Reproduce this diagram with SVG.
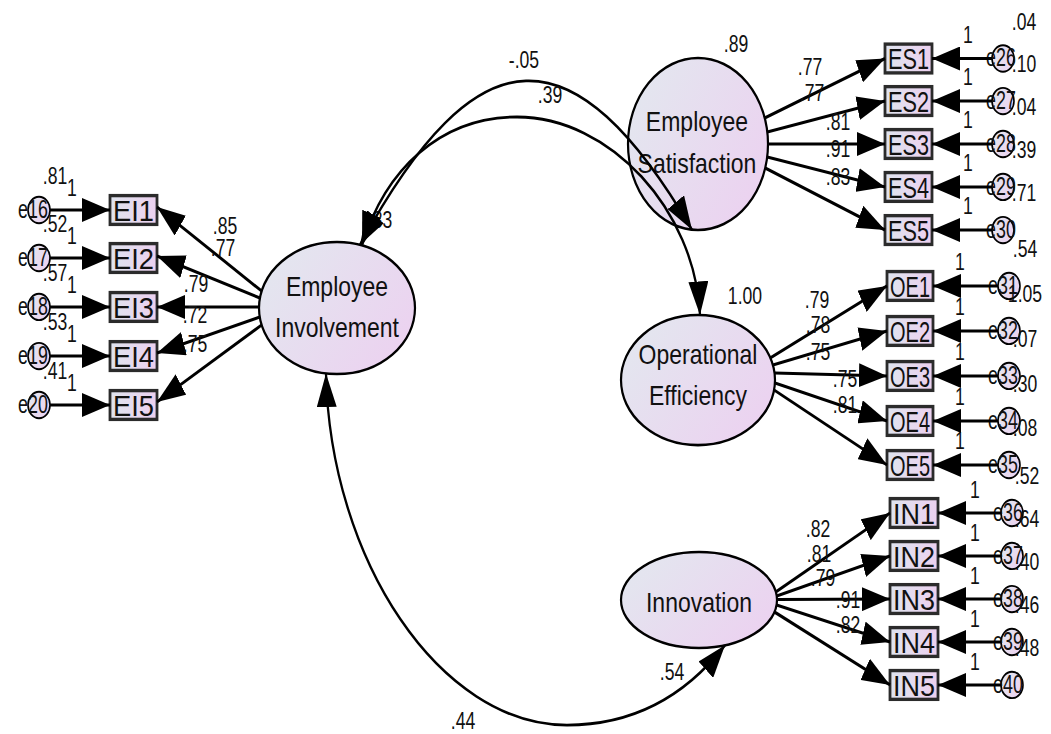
<svg xmlns="http://www.w3.org/2000/svg" width="1051" height="734" viewBox="0 0 1051 734">
<defs>
<linearGradient id="gl" x1="0" y1="0.2" x2="1" y2="0.8"><stop offset="0" stop-color="#e3e7ef"/><stop offset="1" stop-color="#ecd1f0"/></linearGradient>
<linearGradient id="gb" x1="0" y1="0" x2="1" y2="0"><stop offset="0" stop-color="#dfe4ee"/><stop offset="1" stop-color="#ecd0ef"/></linearGradient>
<marker id="ah" viewBox="0 0 28 20" refX="28" refY="10" markerWidth="28" markerHeight="20" markerUnits="userSpaceOnUse" orient="auto-start-reverse"><path d="M0,0 L28,10 L0,20 z" fill="#000"/></marker>
<style>
.lat{fill:url(#gl);stroke:#000;stroke-width:2.2}
.box{fill:url(#gb);stroke:#2b2b2b;stroke-width:2.8}
.err{fill:url(#gl);stroke:#000;stroke-width:1.6}
text{font-family:"Liberation Sans",Arial,sans-serif;fill:#111}
.lt{font-size:23px;text-anchor:middle}
.bt{font-size:25px;text-anchor:middle}
.et{font-size:21px;text-anchor:middle;transform:scaleX(0.85);transform-box:fill-box;transform-origin:center}
.nt{font-size:20px;text-anchor:middle;transform:scaleX(0.88);transform-box:fill-box;transform-origin:center}
.c{fill:none;stroke:#000;stroke-width:2.6;marker-end:url(#ah)}
.cc{fill:none;stroke:#000;stroke-width:2.3;marker-start:url(#ah);marker-end:url(#ah)}
</style>
</defs>
<rect width="1051" height="734" fill="#fff"/>
<g transform="scale(1,1.2)">
<!-- latent nodes -->
<g id="n-EI"><ellipse class="lat" cx="337" cy="256.7" rx="78" ry="55"/><text class="lt" x="337" y="246.7">Employee</text><text class="lt" x="337" y="280.8">Involvement</text><text class="nt" x="380" y="190">.83</text></g>
<g id="n-ES"><ellipse class="lat" cx="698" cy="120" rx="70" ry="71.7"/><text class="lt" x="697" y="109.2">Employee</text><text class="lt" x="697" y="144.2">Satisfaction</text><text class="nt" x="736" y="43.3">.89</text></g>
<g id="n-OE"><ellipse class="lat" cx="698" cy="316.7" rx="77" ry="54.2"/><text class="lt" x="698" y="303">Operational</text><text class="lt" x="698" y="337.5">Efficiency</text><text class="nt" x="745" y="253.3">1.00</text></g>
<g id="n-IN"><ellipse class="lat" cx="699" cy="500" rx="78" ry="40"/><text class="lt" x="699" y="510">Innovation</text></g>
<!-- EI indicators -->
<g id="n-EI1"><rect class="box" x="110" y="163" width="47" height="24"/><text class="bt" x="133.5" y="184" textLength="41" lengthAdjust="spacingAndGlyphs">EI1</text></g>
<g id="n-EI2"><rect class="box" x="110" y="203" width="47" height="24"/><text class="bt" x="133.5" y="224" textLength="41" lengthAdjust="spacingAndGlyphs">EI2</text></g>
<g id="n-EI3"><rect class="box" x="110" y="243.8" width="47" height="24"/><text class="bt" x="133.5" y="264.8" textLength="41" lengthAdjust="spacingAndGlyphs">EI3</text></g>
<g id="n-EI4"><rect class="box" x="110" y="284.7" width="47" height="24"/><text class="bt" x="133.5" y="305.7" textLength="41" lengthAdjust="spacingAndGlyphs">EI4</text></g>
<g id="n-EI5"><rect class="box" x="110" y="325.5" width="47" height="24"/><text class="bt" x="133.5" y="346.5" textLength="41" lengthAdjust="spacingAndGlyphs">EI5</text></g>
<!-- EI errors -->
<g id="n-e16"><circle class="err" cx="39" cy="175" r="11"/><text class="et" x="33" y="181.5">e16</text><text class="nt" x="55" y="153.3">.81</text></g>
<g id="n-e17"><circle class="err" cx="39" cy="215" r="11"/><text class="et" x="33" y="221.5">e17</text><text class="nt" x="55" y="193.3">.52</text></g>
<g id="n-e18"><circle class="err" cx="39" cy="255.8" r="11"/><text class="et" x="33" y="262.3">e18</text><text class="nt" x="55" y="234.1">.57</text></g>
<g id="n-e19"><circle class="err" cx="39" cy="296.7" r="11"/><text class="et" x="33" y="303.2">e19</text><text class="nt" x="55" y="275">.53</text></g>
<g id="n-e20"><circle class="err" cx="39" cy="337.5" r="11"/><text class="et" x="33" y="344">e20</text><text class="nt" x="55" y="315.8">.41</text></g>
<!-- ES indicators -->
<g id="n-ES1"><rect class="box" x="885" y="36.75" width="47" height="24"/><text class="bt" x="908.5" y="57.75" textLength="41" lengthAdjust="spacingAndGlyphs">ES1</text></g>
<g id="n-ES2"><rect class="box" x="885" y="72.2" width="47" height="24"/><text class="bt" x="908.5" y="93.2" textLength="41" lengthAdjust="spacingAndGlyphs">ES2</text></g>
<g id="n-ES3"><rect class="box" x="885" y="108" width="47" height="24"/><text class="bt" x="908.5" y="129" textLength="41" lengthAdjust="spacingAndGlyphs">ES3</text></g>
<g id="n-ES4"><rect class="box" x="885" y="143.8" width="47" height="24"/><text class="bt" x="908.5" y="164.8" textLength="41" lengthAdjust="spacingAndGlyphs">ES4</text></g>
<g id="n-ES5"><rect class="box" x="885" y="179.7" width="47" height="24"/><text class="bt" x="908.5" y="200.7" textLength="41" lengthAdjust="spacingAndGlyphs">ES5</text></g>
<!-- ES errors -->
<g id="n-e26"><circle class="err" cx="1003" cy="48.75" r="11"/><text class="et" x="1001" y="55.25">e26</text><text class="nt" x="1024" y="24.6">.04</text></g>
<g id="n-e27"><circle class="err" cx="1003" cy="84.2" r="11"/><text class="et" x="1001" y="90.7">e27</text><text class="nt" x="1024" y="60">.10</text></g>
<g id="n-e28"><circle class="err" cx="1003" cy="120" r="11"/><text class="et" x="1001" y="126.5">e28</text><text class="nt" x="1024" y="95.8">.04</text></g>
<g id="n-e29"><circle class="err" cx="1003" cy="155.8" r="11"/><text class="et" x="1001" y="162.3">e29</text><text class="nt" x="1024" y="131.6">.39</text></g>
<g id="n-e30"><circle class="err" cx="1003" cy="191.7" r="11"/><text class="et" x="1001" y="198.2">e30</text><text class="nt" x="1024" y="167.5">.71</text></g>
<!-- OE indicators -->
<g id="n-OE1"><rect class="box" x="887" y="226.3" width="46" height="24"/><text class="bt" x="910" y="247.3" textLength="40" lengthAdjust="spacingAndGlyphs">OE1</text></g>
<g id="n-OE2"><rect class="box" x="887" y="263.8" width="46" height="24"/><text class="bt" x="910" y="284.8" textLength="40" lengthAdjust="spacingAndGlyphs">OE2</text></g>
<g id="n-OE3"><rect class="box" x="887" y="301.3" width="46" height="24"/><text class="bt" x="910" y="322.3" textLength="40" lengthAdjust="spacingAndGlyphs">OE3</text></g>
<g id="n-OE4"><rect class="box" x="887" y="338.8" width="46" height="24"/><text class="bt" x="910" y="359.8" textLength="40" lengthAdjust="spacingAndGlyphs">OE4</text></g>
<g id="n-OE5"><rect class="box" x="887" y="375.5" width="46" height="24"/><text class="bt" x="910" y="396.5" textLength="40" lengthAdjust="spacingAndGlyphs">OE5</text></g>
<!-- OE errors -->
<g id="n-e31"><circle class="err" cx="1009" cy="238.3" r="11"/><text class="et" x="1003" y="244.8">e31</text><text class="nt" x="1025" y="214.1">.54</text></g>
<g id="n-e32"><circle class="err" cx="1009" cy="275.8" r="11"/><text class="et" x="1003" y="282.3">e32</text><text class="nt" x="1025" y="251.6">1.05</text></g>
<g id="n-e33"><circle class="err" cx="1009" cy="313.3" r="11"/><text class="et" x="1003" y="319.8">e33</text><text class="nt" x="1025" y="289.1">.07</text></g>
<g id="n-e34"><circle class="err" cx="1009" cy="350.8" r="11"/><text class="et" x="1003" y="357.3">e34</text><text class="nt" x="1025" y="326.6">.30</text></g>
<g id="n-e35"><circle class="err" cx="1009" cy="387.5" r="11"/><text class="et" x="1003" y="394">e35</text><text class="nt" x="1025" y="363.3">.08</text></g>
<!-- IN indicators -->
<g id="n-IN1"><rect class="box" x="890" y="415.5" width="48" height="24"/><text class="bt" x="914" y="436.5" textLength="42" lengthAdjust="spacingAndGlyphs">IN1</text></g>
<g id="n-IN2"><rect class="box" x="890" y="451.3" width="48" height="24"/><text class="bt" x="914" y="472.3" textLength="42" lengthAdjust="spacingAndGlyphs">IN2</text></g>
<g id="n-IN3"><rect class="box" x="890" y="487.2" width="48" height="24"/><text class="bt" x="914" y="508.2" textLength="42" lengthAdjust="spacingAndGlyphs">IN3</text></g>
<g id="n-IN4"><rect class="box" x="890" y="523" width="48" height="24"/><text class="bt" x="914" y="544" textLength="42" lengthAdjust="spacingAndGlyphs">IN4</text></g>
<g id="n-IN5"><rect class="box" x="890" y="558.8" width="48" height="24"/><text class="bt" x="914" y="579.8" textLength="42" lengthAdjust="spacingAndGlyphs">IN5</text></g>
<!-- IN errors -->
<g id="n-e36"><circle class="err" cx="1012" cy="427.5" r="11"/><text class="et" x="1008" y="434">e36</text><text class="nt" x="1027" y="403.3">.52</text></g>
<g id="n-e37"><circle class="err" cx="1012" cy="463.3" r="11"/><text class="et" x="1008" y="469.8">e37</text><text class="nt" x="1027" y="439.1">.64</text></g>
<g id="n-e38"><circle class="err" cx="1012" cy="499.2" r="11"/><text class="et" x="1008" y="505.7">e38</text><text class="nt" x="1027" y="475">.40</text></g>
<g id="n-e39"><circle class="err" cx="1012" cy="535" r="11"/><text class="et" x="1008" y="541.5">e39</text><text class="nt" x="1027" y="510.8">.46</text></g>
<g id="n-e40"><circle class="err" cx="1012" cy="570.8" r="11"/><text class="et" x="1008" y="577.3">e40</text><text class="nt" x="1027" y="546.6">.48</text></g>

<!-- connectors -->
<g id="connectors">
<g id="fixed-labels">
<text class="nt" x="72" y="163.3">1</text><text class="nt" x="72" y="203.3">1</text><text class="nt" x="72" y="244.1">1</text><text class="nt" x="72" y="285">1</text><text class="nt" x="72" y="325.8">1</text>
<text class="nt" x="968" y="35.75">1</text><text class="nt" x="968" y="71.2">1</text><text class="nt" x="968" y="107">1</text><text class="nt" x="968" y="142.8">1</text><text class="nt" x="968" y="178.7">1</text>
<text class="nt" x="960" y="225">1</text><text class="nt" x="960" y="262.5">1</text><text class="nt" x="960" y="300">1</text><text class="nt" x="960" y="337.5">1</text><text class="nt" x="960" y="374.2">1</text>
<text class="nt" x="975" y="415">1</text><text class="nt" x="975" y="450.8">1</text><text class="nt" x="975" y="486.7">1</text><text class="nt" x="975" y="522.5">1</text><text class="nt" x="975" y="558.3">1</text>
</g>
<!-- error paths -->
<path class="c" d="M50,175 L110,175"/><path class="c" d="M50,215 L110,215"/><path class="c" d="M50,255.8 L110,255.8"/><path class="c" d="M50,296.7 L110,296.7"/><path class="c" d="M50,337.5 L110,337.5"/>
<path class="c" d="M992,48.75 L932,48.75"/><path class="c" d="M992,84.2 L932,84.2"/><path class="c" d="M992,120 L932,120"/><path class="c" d="M992,155.8 L932,155.8"/><path class="c" d="M992,191.7 L932,191.7"/>
<path class="c" d="M998,238.3 L933,238.3"/><path class="c" d="M998,275.8 L933,275.8"/><path class="c" d="M998,313.3 L933,313.3"/><path class="c" d="M998,350.8 L933,350.8"/><path class="c" d="M998,387.5 L933,387.5"/>
<path class="c" d="M1001,427.5 L938,427.5"/><path class="c" d="M1001,463.3 L938,463.3"/><path class="c" d="M1001,499.2 L938,499.2"/><path class="c" d="M1001,535 L938,535"/><path class="c" d="M1001,570.8 L938,570.8"/>
<!-- loadings -->
<path class="c" d="M261.6,242.5 L157,172.5"/><path class="c" d="M259.9,248.3 L157,213.3"/><path class="c" d="M259,255.8 L157,255.8"/><path class="c" d="M259.7,264.2 L157,294.2"/><path class="c" d="M261.6,270.8 L157,335"/>
<path class="c" d="M764.7,98.3 L885,48.75"/><path class="c" d="M767.3,110 L885,84.2"/><path class="c" d="M768,120 L885,120"/><path class="c" d="M767.2,130.8 L885,155.8"/><path class="c" d="M765.2,140 L885,191.7"/>
<path class="c" d="M770.4,298.3 L887,238.3"/><path class="c" d="M772.9,304.2 L887,275.8"/><path class="c" d="M774.5,310.8 L887,313.3"/><path class="c" d="M775,319.2 L887,350.8"/><path class="c" d="M774.1,325 L887,387.5"/>
<path class="c" d="M775.9,493.3 L890,427.5"/><path class="c" d="M776.7,496.7 L890,463.3"/><path class="c" d="M777,499.6 L890,499.2"/><path class="c" d="M776.6,504.2 L890,535"/><path class="c" d="M774.5,510 L890,570.8"/>
<!-- covariances -->
<path class="cc" d="M360,204 C478,23.9 574,23.9 692,191.4"/>
<path class="cc" d="M362,204.5 C385,141.7 440,97.5 517,97.5 C610,97.5 695,175 700,262.5"/>
<path class="cc" d="M326,311.2 C330,466.7 440,604.2 567,604.2 C640,604.2 690,575 725,537.7"/>
<g id="estimates">
<text class="nt" x="225" y="195">.85</text><text class="nt" x="223" y="213.3">.77</text><text class="nt" x="196" y="243.3">.79</text><text class="nt" x="195" y="269.2">.72</text><text class="nt" x="195" y="293.3">.75</text>
<text class="nt" x="810" y="62.5">.77</text><text class="nt" x="812" y="84.2">.77</text><text class="nt" x="838" y="108.3">.81</text><text class="nt" x="838" y="130.8">.91</text><text class="nt" x="838" y="154.2">.83</text>
<text class="nt" x="817" y="256.7">.79</text><text class="nt" x="818" y="277.5">.78</text><text class="nt" x="818" y="300">.75</text><text class="nt" x="845" y="322.5">.75</text><text class="nt" x="845" y="344.2">.81</text>
<text class="nt" x="818" y="447.5">.82</text><text class="nt" x="819" y="468.3">.81</text><text class="nt" x="823" y="488.3">.79</text><text class="nt" x="848" y="506.7">.91</text><text class="nt" x="848" y="527.5">.82</text>
<text class="nt" x="524" y="56.7">-.05</text><text class="nt" x="550" y="85.8">.39</text>
<text class="nt" x="672" y="566.7">.54</text><text class="nt" x="463" y="607.5">.44</text>
</g>
</g>
</g>
</svg>
